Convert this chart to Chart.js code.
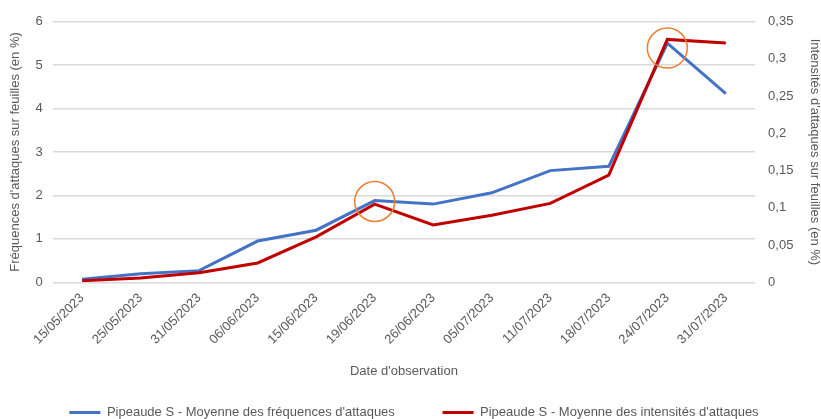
<!DOCTYPE html>
<html>
<head>
<meta charset="utf-8">
<script src="https://cdn.jsdelivr.net/npm/chart.js@4.4.0/dist/chart.umd.min.js"></script>
<style>
    body { margin: 0; background: #fff; }
    #wrap { width: 821px; height: 419px; }
</style>
</head>
<body>
<div id="wrap"><canvas id="attaquesChart" width="821" height="419"></canvas></div>
<script>
const dates = ['15/05/2023', '25/05/2023', '31/05/2023', '06/06/2023', '15/06/2023', '19/06/2023',
    '26/06/2023', '05/07/2023', '11/07/2023', '18/07/2023', '24/07/2023', '31/07/2023'];
// fréquences (axe de gauche, en %)
const frequences = [0.07, 0.2, 0.27, 0.95, 1.2, 1.88, 1.8, 2.06, 2.57, 2.67, 5.5, 4.34];
// intensités (axe de droite, en %)
const intensites = [0.002, 0.006, 0.013, 0.026, 0.061, 0.105, 0.077, 0.09, 0.106, 0.144, 0.326, 0.321];
// cercles de mise en évidence (axe de gauche)
const cercles = [null, null, null, null, null, 1.86, null, null, null, null, 5.39, null];

const grey = '#595959';
const fontFamily = "'Liberation Sans', Arial, sans-serif";

function virgule(value) {
    return String(Math.round(value * 100) / 100).replace('.', ',');
}

function initializeChart() {
    const ctx = document.querySelector('#attaquesChart');
    new Chart(ctx, {
        type: 'line',
        data: {
            labels: dates,
            datasets: [
                {
                    label: 'Pipeaude S - Moyenne des fréquences d\'attaques',
                    data: frequences,
                    yAxisID: 'y',
                    borderColor: '#4472C4',
                    backgroundColor: '#4472C4',
                    borderWidth: 3,
                    pointRadius: 0,
                    tension: 0,
                    order: 2
                },
                {
                    label: 'Pipeaude S - Moyenne des intensités d\'attaques',
                    data: intensites,
                    yAxisID: 'y1',
                    borderColor: '#C00000',
                    backgroundColor: '#C00000',
                    borderWidth: 3,
                    pointRadius: 0,
                    tension: 0,
                    order: 1
                },
                {
                    label: 'cercles',
                    data: cercles,
                    yAxisID: 'y',
                    showLine: false,
                    pointRadius: 20,
                    pointBorderWidth: 1.5,
                    pointBorderColor: '#ED7D31',
                    pointBackgroundColor: 'rgba(0,0,0,0)',
                    order: 0
                }
            ]
        },
        options: {
            responsive: false,
            animation: false,
            layout: {
                padding: { left: 6, right: -1, top: 12, bottom: -10 }
            },
            plugins: {
                tooltip: { enabled: false },
                legend: {
                    position: 'bottom',
                    labels: {
                        color: grey,
                        boxWidth: 31,
                        boxHeight: 3,
                        padding: 8,
                        font: { family: fontFamily, size: 13 },
                        filter: item => item.datasetIndex < 2,
                        sort: (a, b) => a.datasetIndex - b.datasetIndex,
                        generateLabels: chart => {
                            const items = Chart.defaults.plugins.legend.labels.generateLabels(chart);
                            items.forEach(item => {
                                item.lineWidth = 0;
                                if (item.datasetIndex === 0) item.text += '           ';
                            });
                            return items;
                        }
                    }
                }
            },
            scales: {
                x: {
                    offset: true,
                    grid: { display: false, drawTicks: false },
                    border: { display: false },
                    ticks: {
                        color: grey,
                        minRotation: 45,
                        maxRotation: 45,
                        padding: 8,
                        font: { family: fontFamily, size: 13 }
                    },
                    title: {
                        display: true,
                        text: 'Date d\'observation',
                        color: grey,
                        font: { family: fontFamily, size: 13 },
                        padding: { top: 8, bottom: 19 }
                    }
                },
                y: {
                    position: 'left',
                    min: 0,
                    max: 6,
                    ticks: {
                        stepSize: 1,
                        color: grey,
                        padding: 10,
                        font: { family: fontFamily, size: 13 }
                    },
                    grid: { color: '#D9D9D9', lineWidth: 1.5, drawTicks: false },
                    border: { display: false },
                    title: {
                        display: true,
                        text: 'Fréquences d\'attaques sur feuilles (en %)',
                        color: grey,
                        font: { family: fontFamily, size: 13 },
                        padding: 2
                    }
                },
                y1: {
                    position: 'right',
                    min: 0,
                    max: 0.35,
                    ticks: {
                        stepSize: 0.05,
                        color: grey,
                        padding: 13,
                        font: { family: fontFamily, size: 13 },
                        callback: value => virgule(value)
                    },
                    grid: { display: false, drawTicks: false },
                    border: { display: false },
                    title: {
                        display: true,
                        text: 'Intensités d\'attaques sur feuilles (en %)',
                        color: grey,
                        font: { family: fontFamily, size: 13 },
                        padding: 0
                    }
                }
            }
        }
    });
}

document.addEventListener('DOMContentLoaded', () => {
    initializeChart();
});
</script>
</body>
</html>
